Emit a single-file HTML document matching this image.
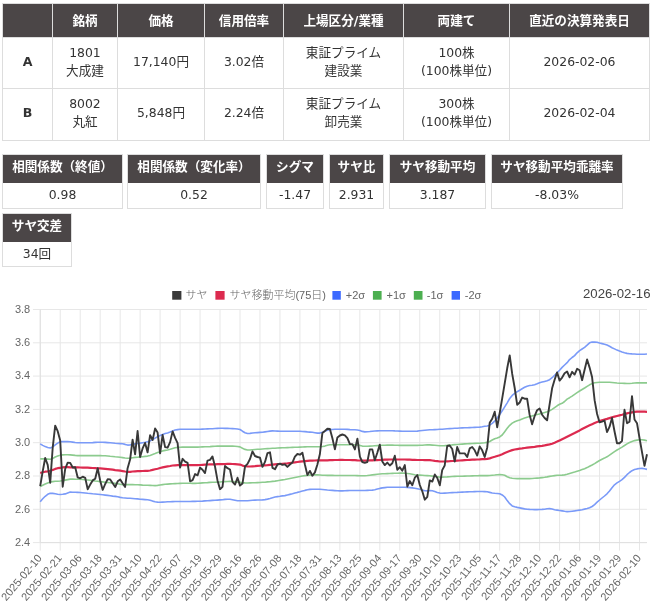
<!DOCTYPE html>
<html lang="ja">
<head>
<meta charset="utf-8">
<title>サヤ</title>
<style>
html,body{margin:0;padding:0;background:#fff;}
body{width:653px;height:607px;position:relative;overflow:hidden;
 font-family:"DejaVu Sans","Noto Sans CJK JP",sans-serif;font-size:12.6px;color:#333;}
.n{font-size:12.4px;}
table.t{position:absolute;left:2px;top:3px;width:648px;border-collapse:collapse;table-layout:fixed;}
table.t th,table.t td{border:1px solid #ddd;padding:0;text-align:center;vertical-align:middle;line-height:18px;}
table.t td{padding-bottom:2.5px;}
table.t th{background:#4b4647;color:#fff;font-weight:bold;height:33px;}
table.t tr.a td{height:47.5px;}
table.t tr.b td{height:48.5px;}
table.t td.h{font-weight:bold;}
.box{position:absolute;border:1px solid #ddd;box-sizing:border-box;text-align:center;}
.box .hd{background:#4b4647;color:#fff;font-weight:bold;height:27.5px;line-height:24.4px;white-space:nowrap;}
.box .vl{line-height:23px;height:25px;}
svg.chart{position:absolute;left:0;top:280px;}
</style>
</head>
<body>
<table class="t">
<colgroup><col style="width:50px"><col style="width:65px"><col style="width:87px"><col style="width:79px"><col style="width:120px"><col style="width:106px"><col style="width:140px"></colgroup>
<tr><th></th><th>銘柄</th><th>価格</th><th>信用倍率</th><th>上場区分/業種</th><th>両建て</th><th>直近の決算発表日</th></tr>
<tr class="a"><td class="h">A</td><td><span class="n">1801</span><br>大成建</td><td><span class="n">17,140</span>円</td><td><span class="n">3.02</span>倍</td><td>東証プライム<br>建設業</td><td><span class="n">100</span>株<br><span class="n">(100</span>株単位<span class="n">)</span></td><td><span class="n">2026-02-06</span></td></tr>
<tr class="b"><td class="h">B</td><td><span class="n">8002</span><br>丸紅</td><td><span class="n">5,848</span>円</td><td><span class="n">2.24</span>倍</td><td>東証プライム<br>卸売業</td><td><span class="n">300</span>株<br><span class="n">(100</span>株単位<span class="n">)</span></td><td><span class="n">2026-02-04</span></td></tr>
</table>

<div class="box" style="left:2px;top:154px;width:121px;height:55px"><div class="hd">相関係数（終値）</div><div class="vl"><span class="n">0.98</span></div></div>
<div class="box" style="left:127px;top:154px;width:134px;height:55px"><div class="hd">相関係数（変化率）</div><div class="vl"><span class="n">0.52</span></div></div>
<div class="box" style="left:266px;top:154px;width:58px;height:55px"><div class="hd">シグマ</div><div class="vl"><span class="n">-1.47</span></div></div>
<div class="box" style="left:329px;top:154px;width:55px;height:55px"><div class="hd">サヤ比</div><div class="vl"><span class="n">2.931</span></div></div>
<div class="box" style="left:389px;top:154px;width:97px;height:55px"><div class="hd">サヤ移動平均</div><div class="vl"><span class="n">3.187</span></div></div>
<div class="box" style="left:491px;top:154px;width:132px;height:55px"><div class="hd">サヤ移動平均乖離率</div><div class="vl"><span class="n">-8.03%</span></div></div>
<div class="box" style="left:2px;top:213px;width:70px;height:54px"><div class="hd">サヤ交差</div><div class="vl"><span class="n">34</span>回</div></div>

<svg class="chart" viewBox="0 280 653 327" width="653" height="327">
<path d="M40.25 309.50 V550.60 M60.23 309.50 V550.60 M80.20 309.50 V550.60 M100.18 309.50 V550.60 M120.15 309.50 V550.60 M140.12 309.50 V550.60 M160.10 309.50 V550.60 M180.08 309.50 V550.60 M200.05 309.50 V550.60 M220.03 309.50 V550.60 M240.00 309.50 V550.60 M259.98 309.50 V550.60 M279.95 309.50 V550.60 M299.93 309.50 V550.60 M319.90 309.50 V550.60 M339.88 309.50 V550.60 M359.85 309.50 V550.60 M379.83 309.50 V550.60 M399.80 309.50 V550.60 M419.78 309.50 V550.60 M439.75 309.50 V550.60 M459.73 309.50 V550.60 M479.70 309.50 V550.60 M499.68 309.50 V550.60 M519.65 309.50 V550.60 M539.62 309.50 V550.60 M559.60 309.50 V550.60 M579.58 309.50 V550.60 M599.55 309.50 V550.60 M619.53 309.50 V550.60 M639.50 309.50 V550.60 M32.95 309.50 H646.99 M32.95 342.80 H646.99 M32.95 376.10 H646.99 M32.95 409.40 H646.99 M32.95 442.70 H646.99 M32.95 476.00 H646.99 M32.95 509.30 H646.99 M32.95 542.60 H646.99" stroke="#e7e7e7" stroke-width="1" fill="none"/>
<path d="M40.25 309.50 V542.60 M40.25 542.60 H646.99" stroke="#e0e0e0" stroke-width="1" fill="none"/>
<g font-family="'Liberation Sans', sans-serif" font-size="11" fill="#666" text-anchor="end">
<text x="30.2" y="312.70">3.8</text>
<text x="30.2" y="346.00">3.6</text>
<text x="30.2" y="379.30">3.4</text>
<text x="30.2" y="412.60">3.2</text>
<text x="30.2" y="445.90">3.0</text>
<text x="30.2" y="479.20">2.8</text>
<text x="30.2" y="512.50">2.6</text>
<text x="30.2" y="545.80">2.4</text>
</g>
<g font-family="'Liberation Sans', sans-serif" font-size="11" fill="#666" text-anchor="end">
<text transform="translate(39.55 555.8) rotate(-50)" x="0" y="3.9">2025-02-10</text>
<text transform="translate(59.52 555.8) rotate(-50)" x="0" y="3.9">2025-02-21</text>
<text transform="translate(79.50 555.8) rotate(-50)" x="0" y="3.9">2025-03-06</text>
<text transform="translate(99.48 555.8) rotate(-50)" x="0" y="3.9">2025-03-18</text>
<text transform="translate(119.45 555.8) rotate(-50)" x="0" y="3.9">2025-03-31</text>
<text transform="translate(139.43 555.8) rotate(-50)" x="0" y="3.9">2025-04-10</text>
<text transform="translate(159.40 555.8) rotate(-50)" x="0" y="3.9">2025-04-22</text>
<text transform="translate(179.38 555.8) rotate(-50)" x="0" y="3.9">2025-05-07</text>
<text transform="translate(199.35 555.8) rotate(-50)" x="0" y="3.9">2025-05-19</text>
<text transform="translate(219.33 555.8) rotate(-50)" x="0" y="3.9">2025-05-29</text>
<text transform="translate(239.30 555.8) rotate(-50)" x="0" y="3.9">2025-06-16</text>
<text transform="translate(259.28 555.8) rotate(-50)" x="0" y="3.9">2025-06-26</text>
<text transform="translate(279.25 555.8) rotate(-50)" x="0" y="3.9">2025-07-08</text>
<text transform="translate(299.23 555.8) rotate(-50)" x="0" y="3.9">2025-07-18</text>
<text transform="translate(319.20 555.8) rotate(-50)" x="0" y="3.9">2025-07-31</text>
<text transform="translate(339.18 555.8) rotate(-50)" x="0" y="3.9">2025-08-13</text>
<text transform="translate(359.15 555.8) rotate(-50)" x="0" y="3.9">2025-08-25</text>
<text transform="translate(379.13 555.8) rotate(-50)" x="0" y="3.9">2025-09-04</text>
<text transform="translate(399.10 555.8) rotate(-50)" x="0" y="3.9">2025-09-17</text>
<text transform="translate(419.08 555.8) rotate(-50)" x="0" y="3.9">2025-09-30</text>
<text transform="translate(439.05 555.8) rotate(-50)" x="0" y="3.9">2025-10-10</text>
<text transform="translate(459.03 555.8) rotate(-50)" x="0" y="3.9">2025-10-23</text>
<text transform="translate(479.00 555.8) rotate(-50)" x="0" y="3.9">2025-11-05</text>
<text transform="translate(498.98 555.8) rotate(-50)" x="0" y="3.9">2025-11-17</text>
<text transform="translate(518.95 555.8) rotate(-50)" x="0" y="3.9">2025-11-28</text>
<text transform="translate(538.92 555.8) rotate(-50)" x="0" y="3.9">2025-12-10</text>
<text transform="translate(558.90 555.8) rotate(-50)" x="0" y="3.9">2025-12-22</text>
<text transform="translate(578.88 555.8) rotate(-50)" x="0" y="3.9">2026-01-06</text>
<text transform="translate(598.85 555.8) rotate(-50)" x="0" y="3.9">2026-01-19</text>
<text transform="translate(618.83 555.8) rotate(-50)" x="0" y="3.9">2026-01-29</text>
<text transform="translate(638.80 555.8) rotate(-50)" x="0" y="3.9">2026-02-10</text>
</g>
<g fill="none" stroke-linejoin="round" stroke-linecap="butt">
<path d="M40.2 443.8 L42.7 445.4 L45.2 446.6 L47.7 447.5 L50.2 448.0 L52.7 446.9 L55.2 444.9 L57.7 443.1 L60.2 441.8 L62.7 441.6 L65.2 441.5 L67.7 441.6 L70.2 441.8 L72.7 442.1 L75.2 442.5 L77.7 442.7 L80.2 442.8 L82.7 442.8 L85.2 442.8 L87.7 442.8 L90.2 442.7 L92.7 442.6 L95.2 442.4 L97.7 442.3 L100.2 442.2 L102.7 442.2 L105.2 442.4 L107.7 442.6 L110.2 442.8 L112.7 443.0 L115.2 443.3 L117.7 443.5 L120.2 443.6 L122.6 443.8 L125.1 444.4 L127.6 445.1 L130.1 444.9 L132.6 444.3 L135.1 443.9 L137.6 443.5 L140.1 443.1 L142.6 442.7 L145.1 442.3 L147.6 441.8 L150.1 440.9 L152.6 439.5 L155.1 438.1 L157.6 436.8 L160.1 435.5 L162.6 434.4 L165.1 433.6 L167.6 432.9 L170.1 432.0 L172.6 430.9 L175.1 430.0 L177.6 429.6 L180.1 429.2 L182.6 429.2 L185.1 429.2 L187.6 429.2 L190.1 429.2 L192.6 429.2 L195.1 429.3 L197.6 429.2 L200.1 429.2 L202.5 429.1 L205.0 429.0 L207.5 428.9 L210.0 428.8 L212.5 428.7 L215.0 428.5 L217.5 428.4 L220.0 428.3 L222.5 428.3 L225.0 428.4 L227.5 428.4 L230.0 428.5 L232.5 428.6 L235.0 428.8 L237.5 429.0 L240.0 429.5 L242.5 431.2 L245.0 432.7 L247.5 433.5 L250.0 433.4 L252.5 433.0 L255.0 432.8 L257.5 432.6 L260.0 432.4 L262.5 432.3 L265.0 431.9 L267.5 431.5 L270.0 431.1 L272.5 430.9 L275.0 431.0 L277.5 431.1 L280.0 431.2 L282.4 431.3 L284.9 431.3 L287.4 431.3 L289.9 431.3 L292.4 431.3 L294.9 431.3 L297.4 431.3 L299.9 431.3 L302.4 431.5 L304.9 431.6 L307.4 431.9 L309.9 432.1 L312.4 432.3 L314.9 432.7 L317.4 433.1 L319.9 433.1 L322.4 432.3 L324.9 431.3 L327.4 430.3 L329.9 429.6 L332.4 429.5 L334.9 429.3 L337.4 429.3 L339.9 429.2 L342.4 429.2 L344.9 429.3 L347.4 429.4 L349.9 429.6 L352.4 429.7 L354.9 429.8 L357.4 430.0 L359.9 430.5 L362.3 431.4 L364.8 431.9 L367.3 431.7 L369.8 431.5 L372.3 431.2 L374.8 431.0 L377.3 430.9 L379.8 430.8 L382.3 430.8 L384.8 430.7 L387.3 430.7 L389.8 430.7 L392.3 430.7 L394.8 430.9 L397.3 431.0 L399.8 431.1 L402.3 431.2 L404.8 431.2 L407.3 431.2 L409.8 431.2 L412.3 431.2 L414.8 431.2 L417.3 431.1 L419.8 430.8 L422.3 430.5 L424.8 430.2 L427.3 430.0 L429.8 429.8 L432.3 429.7 L434.8 429.6 L437.3 429.5 L439.8 429.3 L442.2 429.2 L444.7 429.0 L447.2 428.8 L449.7 428.6 L452.2 428.5 L454.7 428.3 L457.2 428.2 L459.7 428.0 L462.2 427.9 L464.7 427.8 L467.2 427.7 L469.7 427.6 L472.2 427.5 L474.7 427.4 L477.2 427.3 L479.7 427.1 L482.2 426.7 L484.7 426.2 L487.2 426.0 L489.7 425.2 L492.2 423.4 L494.7 421.1 L497.2 418.0 L499.7 414.5 L502.2 410.8 L504.7 406.8 L507.2 402.8 L509.7 398.5 L512.2 395.4 L514.7 393.4 L517.2 391.7 L519.7 390.2 L522.1 388.7 L524.6 387.3 L527.1 386.2 L529.6 385.5 L532.1 385.2 L534.6 384.7 L537.1 383.8 L539.6 382.8 L542.1 382.1 L544.6 381.4 L547.1 380.7 L549.6 379.7 L552.1 377.7 L554.6 375.2 L557.1 372.8 L559.6 370.2 L562.1 367.4 L564.6 365.0 L567.1 362.7 L569.6 359.6 L572.1 357.5 L574.6 355.6 L577.1 352.8 L579.6 350.7 L582.1 349.0 L584.6 347.4 L587.1 345.2 L589.6 342.8 L592.1 342.1 L594.6 342.0 L597.1 342.3 L599.6 343.0 L602.0 343.6 L604.5 344.2 L607.0 345.0 L609.5 346.3 L612.0 347.7 L614.5 348.9 L617.0 350.1 L619.5 351.1 L622.0 352.0 L624.5 352.8 L627.0 353.4 L629.5 353.7 L632.0 353.9 L634.5 354.0 L637.0 354.2 L639.5 354.3 L642.0 354.3 L644.5 354.2 L647.0 354.0" stroke="#7a9af8" stroke-width="1.6"/>
<path d="M40.2 458.9 L42.7 458.9 L45.2 458.9 L47.7 459.1 L50.2 459.3 L52.7 458.5 L55.2 457.0 L57.7 456.0 L60.2 455.3 L62.7 454.9 L65.2 454.7 L67.7 454.8 L70.2 454.9 L72.7 455.1 L75.2 455.4 L77.7 455.6 L80.2 455.6 L82.7 455.6 L85.2 455.6 L87.7 455.6 L90.2 455.6 L92.7 455.6 L95.2 455.6 L97.7 455.6 L100.2 455.6 L102.7 455.7 L105.2 455.8 L107.7 456.0 L110.2 456.3 L112.7 456.5 L115.2 456.8 L117.7 457.0 L120.2 457.3 L122.6 457.6 L125.1 458.0 L127.6 458.3 L130.1 458.1 L132.6 457.7 L135.1 457.4 L137.6 457.2 L140.1 456.9 L142.6 456.7 L145.1 456.4 L147.6 456.1 L150.1 455.4 L152.6 454.5 L155.1 453.6 L157.6 452.6 L160.1 451.7 L162.6 450.9 L165.1 450.4 L167.6 450.0 L170.1 449.3 L172.6 448.5 L175.1 447.8 L177.6 447.4 L180.1 447.2 L182.6 447.1 L185.1 447.1 L187.6 447.1 L190.1 447.1 L192.6 447.1 L195.1 447.1 L197.6 447.1 L200.1 447.0 L202.5 446.9 L205.0 446.8 L207.5 446.7 L210.0 446.6 L212.5 446.4 L215.0 446.3 L217.5 446.1 L220.0 446.1 L222.5 446.1 L225.0 446.1 L227.5 446.1 L230.0 446.1 L232.5 446.1 L235.0 446.2 L237.5 446.5 L240.0 446.9 L242.5 448.3 L245.0 449.4 L247.5 450.0 L250.0 450.0 L252.5 449.7 L255.0 449.5 L257.5 449.3 L260.0 449.2 L262.5 449.0 L265.0 448.8 L267.5 448.6 L270.0 448.5 L272.5 448.3 L275.0 448.2 L277.5 448.0 L280.0 447.9 L282.4 447.8 L284.9 447.7 L287.4 447.6 L289.9 447.5 L292.4 447.4 L294.9 447.3 L297.4 447.2 L299.9 447.1 L302.4 447.0 L304.9 446.9 L307.4 446.8 L309.9 446.8 L312.4 446.7 L314.9 446.7 L317.4 446.7 L319.9 446.7 L322.4 446.5 L324.9 446.1 L327.4 445.3 L329.9 444.8 L332.4 444.8 L334.9 444.8 L337.4 444.8 L339.9 444.8 L342.4 444.8 L344.9 444.8 L347.4 444.8 L349.9 444.8 L352.4 444.8 L354.9 444.9 L357.4 445.0 L359.9 445.4 L362.3 446.1 L364.8 446.3 L367.3 446.3 L369.8 446.1 L372.3 446.0 L374.8 445.8 L377.3 445.6 L379.8 445.5 L382.3 445.3 L384.8 445.2 L387.3 445.1 L389.8 445.0 L392.3 445.1 L394.8 445.2 L397.3 445.3 L399.8 445.4 L402.3 445.4 L404.8 445.4 L407.3 445.4 L409.8 445.4 L412.3 445.4 L414.8 445.4 L417.3 445.4 L419.8 445.3 L422.3 445.2 L424.8 445.0 L427.3 444.9 L429.8 444.9 L432.3 445.1 L434.8 445.3 L437.3 445.5 L439.8 445.7 L442.2 445.7 L444.7 445.6 L447.2 445.4 L449.7 445.1 L452.2 444.9 L454.7 444.6 L457.2 444.5 L459.7 444.3 L462.2 444.1 L464.7 443.9 L467.2 443.8 L469.7 443.6 L472.2 443.5 L474.7 443.4 L477.2 443.3 L479.7 443.2 L482.2 443.0 L484.7 442.8 L487.2 442.4 L489.7 441.5 L492.2 440.0 L494.7 438.8 L497.2 438.0 L499.7 436.9 L502.2 435.0 L504.7 431.7 L507.2 428.3 L509.7 425.3 L512.2 423.1 L514.7 421.8 L517.2 420.8 L519.7 419.9 L522.1 418.9 L524.6 418.1 L527.1 417.3 L529.6 416.6 L532.1 415.9 L534.6 415.3 L537.1 414.6 L539.6 413.9 L542.1 413.3 L544.6 412.6 L547.1 411.8 L549.6 410.8 L552.1 409.4 L554.6 407.6 L557.1 405.8 L559.6 404.3 L562.1 403.3 L564.6 401.5 L567.1 399.1 L569.6 397.7 L572.1 396.1 L574.6 394.3 L577.1 392.6 L579.6 391.0 L582.1 389.5 L584.6 388.0 L587.1 386.4 L589.6 384.8 L592.1 383.6 L594.6 382.8 L597.1 382.5 L599.6 382.3 L602.0 382.2 L604.5 382.2 L607.0 382.2 L609.5 382.3 L612.0 382.5 L614.5 382.7 L617.0 383.0 L619.5 383.2 L622.0 383.3 L624.5 383.4 L627.0 383.5 L629.5 383.5 L632.0 383.3 L634.5 383.0 L637.0 382.9 L639.5 382.9 L642.0 382.9 L644.5 382.9 L647.0 382.9" stroke="#8ccb8e" stroke-width="1.6"/>
<path d="M40.2 486.6 L42.7 485.3 L45.2 484.0 L47.7 482.9 L50.2 482.0 L52.7 481.6 L55.2 481.3 L57.7 481.2 L60.2 481.0 L62.7 480.6 L65.2 480.1 L67.7 479.6 L70.2 479.1 L72.7 479.1 L75.2 479.2 L77.7 479.2 L80.2 479.3 L82.7 479.5 L85.2 479.8 L87.7 480.0 L90.2 480.3 L92.7 480.6 L95.2 481.0 L97.7 481.3 L100.2 481.6 L102.7 481.9 L105.2 482.2 L107.7 482.5 L110.2 482.8 L112.7 483.1 L115.2 483.4 L117.7 483.8 L120.2 484.3 L122.6 484.6 L125.1 484.6 L127.6 484.6 L130.1 484.6 L132.6 484.6 L135.1 484.7 L137.6 484.8 L140.1 484.9 L142.6 485.1 L145.1 485.2 L147.6 485.3 L150.1 485.4 L152.6 485.5 L155.1 485.6 L157.6 485.4 L160.1 485.0 L162.6 484.6 L165.1 484.3 L167.6 484.1 L170.1 483.9 L172.6 483.7 L175.1 483.6 L177.6 483.5 L180.1 483.4 L182.6 483.3 L185.1 483.3 L187.6 483.3 L190.1 483.3 L192.6 483.4 L195.1 483.4 L197.6 483.3 L200.1 483.1 L202.5 482.9 L205.0 482.7 L207.5 482.6 L210.0 482.4 L212.5 482.3 L215.0 482.2 L217.5 482.1 L220.0 482.0 L222.5 481.8 L225.0 481.6 L227.5 481.5 L230.0 481.4 L232.5 481.5 L235.0 481.7 L237.5 482.1 L240.0 482.4 L242.5 482.7 L245.0 482.9 L247.5 483.0 L250.0 482.9 L252.5 482.8 L255.0 482.7 L257.5 482.6 L260.0 482.5 L262.5 482.3 L265.0 482.2 L267.5 481.9 L270.0 481.7 L272.5 481.4 L275.0 481.1 L277.5 480.7 L280.0 480.3 L282.4 479.9 L284.9 479.5 L287.4 479.0 L289.9 478.5 L292.4 478.0 L294.9 477.5 L297.4 477.0 L299.9 476.5 L302.4 476.0 L304.9 475.6 L307.4 475.4 L309.9 475.1 L312.4 474.9 L314.9 474.8 L317.4 474.9 L319.9 475.0 L322.4 475.2 L324.9 475.3 L327.4 475.4 L329.9 475.4 L332.4 475.4 L334.9 475.5 L337.4 475.5 L339.9 475.5 L342.4 475.5 L344.9 475.5 L347.4 475.5 L349.9 475.5 L352.4 475.5 L354.9 475.5 L357.4 475.6 L359.9 475.7 L362.3 475.7 L364.8 475.7 L367.3 475.5 L369.8 475.2 L372.3 474.9 L374.8 474.6 L377.3 474.3 L379.8 474.0 L382.3 473.8 L384.8 473.7 L387.3 473.6 L389.8 473.5 L392.3 473.4 L394.8 473.3 L397.3 473.2 L399.8 473.1 L402.3 473.1 L404.8 473.2 L407.3 473.5 L409.8 473.8 L412.3 474.2 L414.8 474.7 L417.3 475.0 L419.8 475.1 L422.3 475.3 L424.8 475.5 L427.3 475.6 L429.8 475.8 L432.3 476.1 L434.8 476.5 L437.3 476.8 L439.8 477.1 L442.2 477.1 L444.7 477.0 L447.2 476.9 L449.7 476.7 L452.2 476.5 L454.7 476.4 L457.2 476.3 L459.7 476.3 L462.2 476.2 L464.7 476.1 L467.2 476.0 L469.7 476.0 L472.2 475.9 L474.7 475.8 L477.2 475.7 L479.7 475.6 L482.2 475.6 L484.7 475.6 L487.2 475.6 L489.7 475.5 L492.2 475.2 L494.7 475.0 L497.2 474.7 L499.7 474.6 L502.2 474.8 L504.7 475.3 L507.2 476.7 L509.7 477.7 L512.2 478.3 L514.7 478.5 L517.2 478.6 L519.7 478.6 L522.1 478.6 L524.6 478.6 L527.1 478.6 L529.6 478.6 L532.1 478.5 L534.6 478.3 L537.1 478.1 L539.6 477.9 L542.1 477.6 L544.6 477.3 L547.1 476.9 L549.6 476.4 L552.1 476.0 L554.6 475.6 L557.1 475.3 L559.6 475.2 L562.1 475.1 L564.6 474.9 L567.1 474.3 L569.6 473.5 L572.1 472.8 L574.6 472.1 L577.1 471.3 L579.6 470.5 L582.1 469.6 L584.6 468.7 L587.1 467.6 L589.6 466.3 L592.1 465.0 L594.6 463.6 L597.1 462.0 L599.6 460.5 L602.0 459.2 L604.5 458.1 L607.0 456.8 L609.5 455.2 L612.0 453.4 L614.5 451.6 L617.0 450.0 L619.5 448.6 L622.0 447.1 L624.5 445.5 L627.0 443.9 L629.5 442.5 L632.0 441.4 L634.5 440.6 L637.0 440.1 L639.5 439.8 L642.0 439.8 L644.5 440.1 L647.0 440.7" stroke="#8ccb8e" stroke-width="1.6"/>
<path d="M40.2 501.8 L42.7 498.8 L45.2 496.3 L47.7 494.3 L50.2 493.2 L52.7 493.4 L55.2 493.8 L57.7 494.2 L60.2 494.5 L62.7 494.3 L65.2 493.9 L67.7 493.0 L70.2 492.1 L72.7 492.2 L75.2 492.3 L77.7 492.4 L80.2 492.5 L82.7 492.7 L85.2 493.0 L87.7 493.3 L90.2 493.5 L92.7 493.8 L95.2 494.0 L97.7 494.2 L100.2 494.5 L102.7 494.8 L105.2 495.1 L107.7 495.4 L110.2 495.7 L112.7 496.1 L115.2 496.4 L117.7 496.8 L120.2 497.4 L122.6 497.8 L125.1 498.0 L127.6 498.2 L130.1 498.3 L132.6 498.5 L135.1 498.7 L137.6 498.9 L140.1 499.2 L142.6 499.4 L145.1 499.6 L147.6 499.8 L150.1 500.3 L152.6 501.1 L155.1 501.7 L157.6 502.1 L160.1 502.2 L162.6 502.1 L165.1 502.0 L167.6 501.8 L170.1 501.7 L172.6 501.6 L175.1 501.5 L177.6 501.5 L180.1 501.5 L182.6 501.5 L185.1 501.5 L187.6 501.5 L190.1 501.5 L192.6 501.4 L195.1 501.4 L197.6 501.3 L200.1 501.2 L202.5 501.1 L205.0 500.9 L207.5 500.8 L210.0 500.6 L212.5 500.4 L215.0 500.3 L217.5 500.1 L220.0 499.9 L222.5 499.7 L225.0 499.4 L227.5 499.2 L230.0 499.3 L232.5 499.7 L235.0 500.2 L237.5 500.7 L240.0 500.8 L242.5 500.8 L245.0 500.8 L247.5 500.8 L250.0 500.5 L252.5 500.2 L255.0 500.1 L257.5 500.0 L260.0 500.0 L262.5 499.9 L265.0 499.6 L267.5 499.1 L270.0 498.5 L272.5 497.7 L275.0 497.0 L277.5 496.6 L280.0 496.3 L282.4 495.9 L284.9 495.6 L287.4 495.0 L289.9 494.4 L292.4 493.8 L294.9 493.1 L297.4 492.4 L299.9 491.8 L302.4 491.1 L304.9 490.4 L307.4 489.8 L309.9 489.4 L312.4 489.3 L314.9 489.3 L317.4 489.3 L319.9 489.3 L322.4 489.5 L324.9 489.7 L327.4 490.0 L329.9 490.2 L332.4 490.4 L334.9 490.6 L337.4 490.8 L339.9 490.9 L342.4 490.9 L344.9 490.8 L347.4 490.6 L349.9 490.5 L352.4 490.5 L354.9 490.5 L357.4 490.5 L359.9 490.5 L362.3 490.5 L364.8 490.5 L367.3 490.4 L369.8 490.3 L372.3 490.1 L374.8 489.8 L377.3 489.1 L379.8 488.4 L382.3 487.9 L384.8 487.6 L387.3 487.3 L389.8 487.2 L392.3 487.2 L394.8 487.2 L397.3 487.2 L399.8 487.2 L402.3 487.2 L404.8 487.3 L407.3 487.4 L409.8 487.6 L412.3 487.9 L414.8 488.3 L417.3 488.7 L419.8 489.2 L422.3 490.0 L424.8 490.7 L427.3 490.9 L429.8 490.5 L432.3 490.8 L434.8 491.5 L437.3 492.4 L439.8 493.1 L442.2 493.2 L444.7 493.1 L447.2 493.0 L449.7 492.8 L452.2 492.6 L454.7 492.5 L457.2 492.4 L459.7 492.2 L462.2 492.1 L464.7 492.0 L467.2 491.9 L469.7 491.8 L472.2 491.7 L474.7 491.6 L477.2 491.5 L479.7 491.5 L482.2 491.5 L484.7 491.6 L487.2 491.8 L489.7 492.4 L492.2 493.0 L494.7 493.3 L497.2 493.5 L499.7 493.8 L502.2 494.9 L504.7 497.0 L507.2 500.6 L509.7 503.7 L512.2 505.9 L514.7 506.8 L517.2 507.4 L519.7 507.9 L522.1 508.4 L524.6 508.9 L527.1 509.2 L529.6 509.4 L532.1 509.5 L534.6 509.6 L537.1 509.6 L539.6 509.5 L542.1 509.4 L544.6 509.2 L547.1 508.8 L549.6 508.6 L552.1 509.0 L554.6 509.7 L557.1 510.1 L559.6 510.5 L562.1 510.9 L564.6 511.3 L567.1 511.6 L569.6 511.5 L572.1 511.2 L574.6 510.9 L577.1 510.5 L579.6 510.1 L582.1 509.7 L584.6 509.1 L587.1 508.5 L589.6 507.7 L592.1 506.5 L594.6 504.6 L597.1 502.2 L599.6 500.0 L602.0 498.0 L604.5 496.0 L607.0 493.8 L609.5 491.0 L612.0 487.7 L614.5 484.8 L617.0 482.9 L619.5 481.4 L622.0 479.7 L624.5 477.4 L627.0 474.7 L629.5 472.5 L632.0 470.7 L634.5 469.6 L637.0 468.9 L639.5 468.5 L642.0 468.4 L644.5 468.8 L647.0 469.4" stroke="#7a9af8" stroke-width="1.6"/>
<path d="M40.2 473.0 L42.7 472.3 L45.2 471.7 L47.7 471.3 L50.2 470.8 L52.7 469.9 L55.2 468.9 L57.7 468.2 L60.2 467.8 L62.7 467.4 L65.2 467.2 L67.7 467.2 L70.2 467.3 L72.7 467.3 L75.2 467.4 L77.7 467.4 L80.2 467.5 L82.7 467.6 L85.2 467.6 L87.7 467.7 L90.2 467.8 L92.7 468.0 L95.2 468.1 L97.7 468.3 L100.2 468.4 L102.7 468.6 L105.2 468.8 L107.7 469.1 L110.2 469.4 L112.7 469.7 L115.2 470.1 L117.7 470.4 L120.2 470.7 L122.6 471.1 L125.1 471.5 L127.6 471.8 L130.1 471.8 L132.6 471.5 L135.1 471.3 L137.6 471.2 L140.1 471.1 L142.6 471.0 L145.1 470.9 L147.6 470.8 L150.1 470.5 L152.6 469.9 L155.1 469.3 L157.6 468.7 L160.1 468.0 L162.6 467.4 L165.1 466.9 L167.6 466.4 L170.1 466.0 L172.6 465.5 L175.1 465.3 L177.6 465.2 L180.1 465.2 L182.6 465.1 L185.1 465.1 L187.6 465.2 L190.1 465.2 L192.6 465.2 L195.1 465.2 L197.6 465.1 L200.1 465.0 L202.5 464.8 L205.0 464.6 L207.5 464.5 L210.0 464.4 L212.5 464.4 L215.0 464.3 L217.5 464.2 L220.0 464.2 L222.5 464.1 L225.0 464.0 L227.5 463.9 L230.0 463.9 L232.5 464.0 L235.0 464.1 L237.5 464.3 L240.0 464.6 L242.5 465.6 L245.0 466.2 L247.5 466.5 L250.0 466.5 L252.5 466.3 L255.0 466.1 L257.5 465.8 L260.0 465.7 L262.5 465.5 L265.0 465.3 L267.5 465.1 L270.0 464.8 L272.5 464.6 L275.0 464.4 L277.5 464.2 L280.0 464.0 L282.4 463.8 L284.9 463.6 L287.4 463.4 L289.9 463.0 L292.4 462.7 L294.9 462.3 L297.4 462.0 L299.9 461.7 L302.4 461.4 L304.9 461.1 L307.4 460.9 L309.9 460.7 L312.4 460.6 L314.9 460.5 L317.4 460.4 L319.9 460.4 L322.4 460.4 L324.9 460.3 L327.4 460.3 L329.9 460.2 L332.4 460.1 L334.9 460.0 L337.4 460.0 L339.9 459.9 L342.4 459.9 L344.9 460.0 L347.4 460.0 L349.9 460.0 L352.4 460.1 L354.9 460.2 L357.4 460.4 L359.9 460.5 L362.3 460.6 L364.8 460.6 L367.3 460.5 L369.8 460.4 L372.3 460.4 L374.8 460.2 L377.3 460.1 L379.8 460.0 L382.3 459.8 L384.8 459.7 L387.3 459.6 L389.8 459.5 L392.3 459.5 L394.8 459.5 L397.3 459.5 L399.8 459.5 L402.3 459.5 L404.8 459.5 L407.3 459.6 L409.8 459.7 L412.3 459.8 L414.8 459.9 L417.3 460.0 L419.8 460.0 L422.3 460.0 L424.8 460.1 L427.3 460.1 L429.8 460.2 L432.3 460.5 L434.8 460.9 L437.3 461.2 L439.8 461.5 L442.2 461.5 L444.7 461.5 L447.2 461.3 L449.7 461.2 L452.2 461.0 L454.7 460.9 L457.2 460.7 L459.7 460.5 L462.2 460.3 L464.7 460.1 L467.2 460.0 L469.7 459.8 L472.2 459.7 L474.7 459.6 L477.2 459.5 L479.7 459.4 L482.2 459.2 L484.7 459.1 L487.2 458.9 L489.7 458.4 L492.2 457.5 L494.7 456.8 L497.2 456.0 L499.7 455.2 L502.2 454.2 L504.7 453.0 L507.2 452.0 L509.7 451.0 L512.2 450.1 L514.7 449.5 L517.2 449.1 L519.7 448.7 L522.1 448.4 L524.6 448.0 L527.1 447.7 L529.6 447.4 L532.1 447.1 L534.6 446.8 L537.1 446.4 L539.6 446.1 L542.1 445.8 L544.6 445.4 L547.1 444.9 L549.6 444.4 L552.1 443.7 L554.6 442.7 L557.1 441.6 L559.6 440.4 L562.1 439.2 L564.6 438.0 L567.1 436.7 L569.6 435.4 L572.1 434.2 L574.6 433.0 L577.1 431.7 L579.6 430.4 L582.1 429.0 L584.6 427.7 L587.1 426.4 L589.6 425.3 L592.1 424.2 L594.6 423.1 L597.1 422.1 L599.6 421.1 L602.0 420.3 L604.5 419.6 L607.0 418.9 L609.5 418.1 L612.0 417.3 L614.5 416.6 L617.0 416.0 L619.5 415.4 L622.0 414.8 L624.5 414.1 L627.0 413.4 L629.5 412.8 L632.0 412.3 L634.5 411.8 L637.0 411.6 L639.5 411.6 L642.0 411.6 L644.5 411.7 L647.0 411.8" stroke="#dc2a4f" stroke-width="2.2"/>
<path d="M40.2 486.2 L42.7 471.4 L45.2 458.0 L47.7 464.9 L50.2 482.9 L52.7 447.7 L55.2 425.6 L57.7 431.2 L60.2 440.5 L62.7 486.7 L65.2 468.8 L67.7 462.6 L70.2 462.9 L72.7 467.5 L75.2 467.2 L77.7 477.4 L80.2 478.3 L82.7 476.7 L85.2 477.8 L87.7 489.2 L90.2 484.6 L92.7 480.4 L95.2 478.7 L97.7 468.2 L100.2 480.7 L102.7 489.9 L105.2 484.0 L107.7 479.1 L110.2 479.4 L112.7 483.3 L115.2 487.0 L117.7 481.3 L120.2 479.4 L122.6 483.3 L125.1 486.9 L127.6 468.2 L130.1 459.6 L132.6 439.6 L135.1 454.3 L137.6 431.0 L140.1 457.0 L142.6 448.4 L145.1 442.9 L147.6 452.4 L150.1 435.1 L152.6 440.0 L155.1 428.5 L157.6 432.6 L160.1 453.3 L162.6 435.0 L165.1 447.1 L167.6 447.7 L170.1 442.1 L172.6 431.4 L175.1 437.9 L177.6 443.1 L180.1 467.6 L182.6 458.8 L185.1 461.6 L187.6 462.9 L190.1 481.4 L192.6 480.2 L195.1 474.1 L197.6 475.3 L200.1 467.6 L202.5 469.8 L205.0 473.1 L207.5 460.6 L210.0 459.9 L212.5 456.4 L215.0 466.5 L217.5 480.4 L220.0 489.2 L222.5 486.9 L225.0 465.9 L227.5 468.2 L230.0 469.5 L232.5 481.9 L235.0 484.6 L237.5 477.7 L240.0 485.6 L242.5 483.6 L245.0 466.5 L247.5 463.9 L250.0 459.0 L252.5 451.4 L255.0 456.0 L257.5 457.0 L260.0 457.7 L262.5 466.9 L265.0 461.9 L267.5 453.1 L270.0 452.3 L272.5 467.8 L275.0 469.2 L277.5 464.5 L280.0 463.6 L282.4 464.9 L284.9 464.3 L287.4 466.9 L289.9 464.5 L292.4 462.6 L294.9 456.6 L297.4 454.0 L299.9 454.7 L302.4 452.7 L304.9 464.5 L307.4 475.1 L309.9 470.9 L312.4 475.7 L314.9 472.4 L317.4 464.5 L319.9 454.0 L322.4 432.9 L324.9 430.9 L327.4 428.7 L329.9 429.0 L332.4 438.2 L334.9 449.4 L337.4 437.5 L339.9 435.5 L342.4 434.5 L344.9 435.3 L347.4 438.2 L349.9 444.1 L352.4 444.1 L354.9 449.4 L357.4 438.6 L359.9 456.6 L362.3 462.0 L364.8 462.8 L367.3 462.0 L369.8 449.4 L372.3 449.4 L374.8 460.2 L377.3 452.7 L379.8 444.6 L382.3 461.5 L384.8 465.1 L387.3 462.6 L389.8 465.5 L392.3 463.2 L394.8 455.7 L397.3 469.9 L399.8 467.2 L402.3 470.7 L404.8 465.1 L407.3 486.5 L409.8 481.0 L412.3 485.2 L414.8 477.7 L417.3 475.1 L419.8 485.0 L422.3 491.3 L424.8 499.7 L427.3 496.8 L429.8 480.4 L432.3 481.6 L434.8 474.5 L437.3 478.0 L439.8 485.3 L442.2 470.1 L444.7 465.5 L447.2 446.0 L449.7 445.5 L452.2 449.0 L454.7 461.5 L457.2 447.0 L459.7 453.4 L462.2 453.4 L464.7 453.4 L467.2 456.9 L469.7 448.4 L472.2 447.0 L474.7 450.3 L477.2 455.6 L479.7 446.4 L482.2 450.3 L484.7 456.9 L487.2 447.7 L489.7 422.8 L492.2 418.8 L494.7 411.7 L497.2 427.3 L499.7 412.8 L502.2 398.4 L504.7 383.3 L507.2 368.3 L509.7 355.4 L512.2 373.9 L514.7 388.0 L517.2 404.8 L519.7 402.5 L522.1 397.6 L524.6 398.7 L527.1 398.7 L529.6 414.7 L532.1 424.3 L534.6 416.2 L537.1 410.2 L539.6 408.5 L542.1 414.7 L544.6 418.0 L547.1 420.3 L549.6 404.3 L552.1 388.3 L554.6 379.8 L557.1 372.4 L559.6 380.6 L562.1 377.6 L564.6 373.3 L567.1 371.5 L569.6 377.3 L572.1 371.8 L574.6 374.6 L577.1 368.8 L579.6 370.3 L582.1 380.2 L584.6 369.8 L587.1 359.5 L589.6 367.6 L592.1 377.3 L594.6 400.2 L597.1 414.0 L599.6 422.4 L602.0 421.7 L604.5 420.5 L607.0 432.1 L609.5 426.9 L612.0 418.0 L614.5 431.3 L617.0 443.2 L619.5 443.2 L622.0 441.0 L624.5 409.8 L627.0 423.2 L629.5 421.7 L632.0 396.2 L634.5 419.5 L637.0 423.2 L639.5 438.0 L642.0 452.1 L644.5 465.9 L647.0 454.3" stroke="#383838" stroke-width="1.9"/>
</g>
<g>
<rect x="172.2" y="291" width="9.2" height="8.7" fill="#3a3a3a"/>
<rect x="215.4" y="291" width="9.2" height="8.7" fill="#dc2a4f"/>
<rect x="332.4" y="291" width="8.4" height="8.7" fill="#3b69ff"/>
<rect x="372.9" y="291" width="8.7" height="8.7" fill="#4caf50"/>
<rect x="413.8" y="291" width="8.7" height="8.7" fill="#4caf50"/>
<rect x="451.6" y="291" width="8.4" height="8.7" fill="#3b69ff"/>
</g>
<g font-family="'Liberation Sans', 'Noto Sans CJK JP', sans-serif" font-size="11" fill="#666" font-weight="300">
<text x="185.6" y="298.7">サヤ</text>
<text x="229.4" y="298.7">サヤ移動平均(75日)</text>
<text x="345.8" y="298.7">+2σ</text>
<text x="386.5" y="298.7">+1σ</text>
<text x="426.8" y="298.7">-1σ</text>
<text x="464.8" y="298.7">-2σ</text>
</g>
<text x="650.5" y="298.2" text-anchor="end" font-family="'Liberation Sans', sans-serif" font-size="13.2" fill="#444">2026-02-16</text>
</svg>
</body>
</html>
